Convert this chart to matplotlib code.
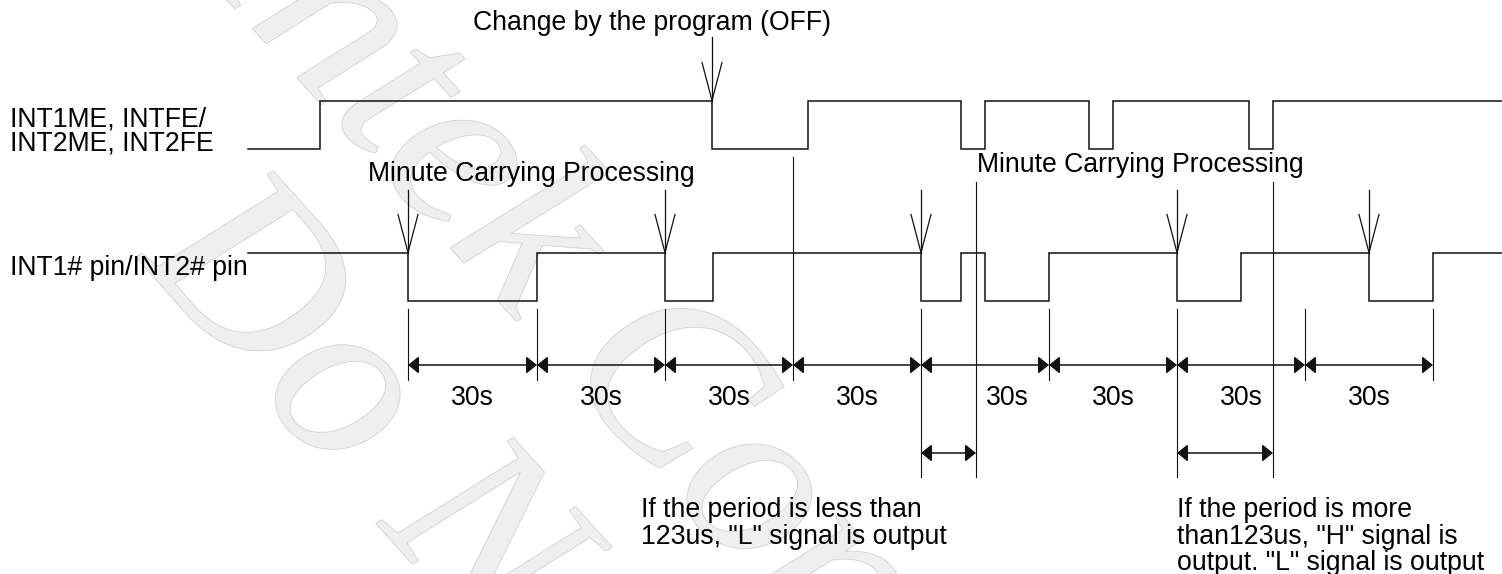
import matplotlib
matplotlib.use("Agg")
import matplotlib.pyplot as plt
import matplotlib.patheffects as pe

# ---------------- data (time axis in diagram units) ----------------
top_label = ["INT1ME, INTFE/", "INT2ME, INT2FE"]
bot_label = ["INT1# pin/INT2# pin"]
# edges of INT1ME/INTFE signal, first level low (0)
top_edges = [248, 320, 712, 808, 961, 985, 1089, 1113, 1249, 1273, 1502]
top_start = 0
# edges of INT1# pin signal, first level high (1)
bot_edges = [248, 408, 537, 665, 713, 921, 961, 985, 1049, 1177, 1241, 1369, 1433, 1502]
bot_start = 1
# minute carrying arrows (times)
carry_times = [408, 665, 921, 1177, 1369]
change_time = 712
# 30 s period boundaries
period_ticks = [408, 537, 665, 793, 921, 1049, 1177, 1305, 1433]
period_labels = ["30s"] * 8
label_shift = [0, 0, 0, 0, 22, 0, 0, 0]
# reference markers (vertical lines from top signal)
ref_lines = [793, 976, 1273]
# small measured intervals
short_spans = [(921, 976), (1177, 1273)]
note_less = ["If the period is less than", "123us, \"L\" signal is output"]
note_more = ["If the period is more", "than123us, \"H\" signal is", "output. \"L\" signal is output"]
watermark = ["Intek Conf.", "Do Not Copy."]

# ---------------- layout constants ----------------
W, H = 1502, 574
TOP_HI, TOP_LO = 100.5, 148.5
BOT_HI, BOT_LO = 252.5, 300.5
DIM_Y = 365
EXT_TOP, EXT_BOT = 309, 380
SHORT_Y = 453
LONG_BOT = 477
FS = 19.2
LINE = 26.5
FONT = ["Liberation Sans", "DejaVu Sans"]
LC = "#111111"

fig = plt.figure(figsize=(W / 100, H / 100), dpi=100)
ax = fig.add_axes([0, 0, 1, 1])
ax.set_xlim(0, W)
ax.set_ylim(H, 0)
ax.axis("off")

# ---------------- watermark ----------------
wm = dict(family="Liberation Serif", style="italic", fontsize=175, color="#efefef",
          rotation=-48, rotation_mode="anchor", ha="left", va="baseline",
          path_effects=[pe.Stroke(linewidth=1.2, foreground="#d2d2d2"), pe.Normal()],
          zorder=0)
ax.text(193, -38, watermark[0], **wm)
ax.text(138, 259, watermark[1], **wm)


def step(edges, start, hi, lo):
    xs, ys = [], []
    lvl = start
    for i in range(len(edges) - 1):
        y = hi if lvl else lo
        xs += [edges[i], edges[i + 1]]
        ys += [y, y]
        lvl = 1 - lvl
    return xs, ys


xs, ys = step(top_edges, top_start, TOP_HI, TOP_LO)
ax.plot(xs, ys, color=LC, lw=1.1, solid_joinstyle="miter", zorder=3)
xs, ys = step(bot_edges, bot_start, BOT_HI, BOT_LO)
ax.plot(xs, ys, color=LC, lw=1.1, solid_joinstyle="miter", zorder=3)


def open_arrow(x, y0, y1, hw=10, hl=38):
    ax.plot([x, x], [y0, y1], color=LC, lw=0.9, zorder=4)
    ax.plot([x - hw, x, x + hw], [y1 - hl, y1, y1 - hl], color=LC, lw=0.9, zorder=4)


open_arrow(change_time, 37, TOP_HI)
for t in carry_times:
    open_arrow(t, 190, BOT_HI)

# extension lines
long_from_signal = [921, 1177]
for t in period_ticks:
    if t in ref_lines:
        continue
    ax.plot([t, t], [EXT_TOP, LONG_BOT if t in long_from_signal else EXT_BOT],
            color=LC, lw=0.8, zorder=2)
ax.plot([ref_lines[0]] * 2, [157, EXT_BOT], color=LC, lw=0.8, zorder=2)
for t in ref_lines[1:]:
    ax.plot([t, t], [182, LONG_BOT], color=LC, lw=0.8, zorder=2)

arrow_kw = dict(arrowstyle="<|-|>,head_length=6.5,head_width=5.2", mutation_scale=1,
                shrinkA=0, shrinkB=0, color=LC, lw=1.1)
for i in range(len(period_ticks) - 1):
    a, b = period_ticks[i], period_ticks[i + 1]
    ax.annotate("", xy=(b, DIM_Y), xytext=(a, DIM_Y), arrowprops=arrow_kw, zorder=3)
    ax.text((a + b) / 2 + label_shift[i], 405, period_labels[i], ha="center", va="baseline",
            fontsize=FS, family=FONT, zorder=5)
for a, b in short_spans:
    ax.annotate("", xy=(b, SHORT_Y), xytext=(a, SHORT_Y), arrowprops=arrow_kw, zorder=3)

# texts
txt = dict(fontsize=FS, family=FONT, va="baseline", ha="left", zorder=5)


def lines(x, y, rows, step_=LINE):
    for i, r in enumerate(rows):
        ax.text(x, y + i * step_, r, **txt)


lines(10, 126, top_label, 25)
lines(10, 275, bot_label)
ax.text(473, 30, "Change by the program (OFF)", **txt)
ax.text(368, 181, "Minute Carrying Processing", **txt)
ax.text(977, 172, "Minute Carrying Processing", **txt)
lines(641, 517, note_less)
lines(1177, 517, note_more)

fig.savefig("out.png", dpi=100, facecolor="white")
